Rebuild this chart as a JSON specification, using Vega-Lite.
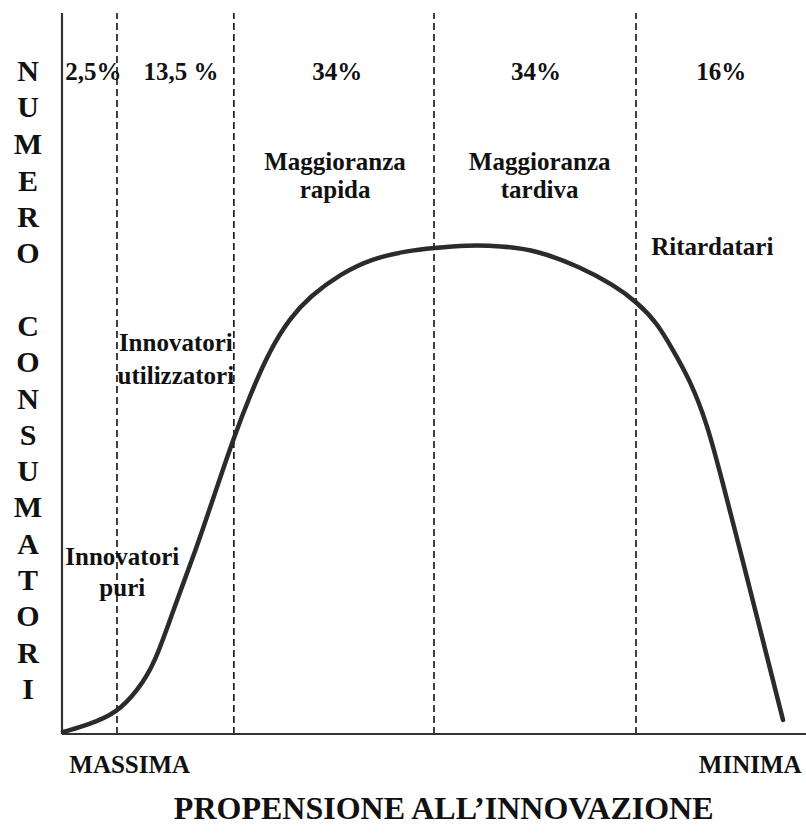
{
  "$schema": "https://vega.github.io/schema/vega-lite/v6.json",
  "width": 744,
  "height": 721,
  "autosize": {"type": "none"},
  "padding": {"left": 62, "top": 13, "right": 0, "bottom": 102},
  "background": "white",
  "config": {"view": {"stroke": null}, "text": {"font": "Liberation Serif", "fontWeight": "bold", "color": "#111"}},
  "datasets": {
    "curve": [
      {"x": 0.13, "y": 0.28}, {"x": 3.49, "y": 1.25}, {"x": 7.39, "y": 2.91}, {"x": 10.2, "y": 6.1},
      {"x": 12.5, "y": 9.8}, {"x": 15.19, "y": 17.9}, {"x": 17.88, "y": 25.2}, {"x": 20.56, "y": 33.4},
      {"x": 22.98, "y": 40.8}, {"x": 25.27, "y": 47.0}, {"x": 27.96, "y": 53.3}, {"x": 30.65, "y": 57.7},
      {"x": 33.33, "y": 60.7}, {"x": 37.37, "y": 63.8}, {"x": 41.8, "y": 66.0}, {"x": 46.4, "y": 67.0},
      {"x": 49.9, "y": 67.4}, {"x": 54.4, "y": 67.8}, {"x": 58.9, "y": 67.7}, {"x": 63.8, "y": 67.1},
      {"x": 69.6, "y": 64.8}, {"x": 74.1, "y": 62.3}, {"x": 77.3, "y": 59.9}, {"x": 80.0, "y": 57.0},
      {"x": 82.1, "y": 53.3}, {"x": 84.4, "y": 49.1}, {"x": 86.69, "y": 43.13}, {"x": 88.71, "y": 35.23},
      {"x": 91.13, "y": 25.52}, {"x": 93.41, "y": 16.23}, {"x": 96.91, "y": 1.94}
    ],
    "dividers": [{"x": 7.39}, {"x": 23.1}, {"x": 50.0}, {"x": 77.15}],
    "labels": [
      {"x": 4.23, "y": 91.8, "t": "2,5%"},
      {"x": 16.0, "y": 91.8, "t": "13,5 %"},
      {"x": 37.0, "y": 91.8, "t": "34%"},
      {"x": 63.7, "y": 91.8, "t": "34%"},
      {"x": 88.6, "y": 91.8, "t": "16%"},
      {"x": 36.7, "y": 79.3, "t": "Maggioranza"},
      {"x": 36.7, "y": 75.5, "t": "rapida"},
      {"x": 64.2, "y": 79.3, "t": "Maggioranza"},
      {"x": 64.2, "y": 75.5, "t": "tardiva"},
      {"x": 87.4, "y": 67.5, "t": "Ritardatari"},
      {"x": 15.3, "y": 54.2, "t": "Innovatori"},
      {"x": 15.3, "y": 49.7, "t": "utilizzatori"},
      {"x": 8.1, "y": 24.5, "t": "Innovatori"},
      {"x": 8.1, "y": 20.2, "t": "puri"},
      {"x": 9.1, "y": -4.3, "t": "MASSIMA"},
      {"x": 92.5, "y": -4.3, "t": "MINIMA"}
    ],
    "letters": [
      {"y": 91.8, "t": "N"}, {"y": 86.8, "t": "U"}, {"y": 81.7, "t": "M"}, {"y": 76.6, "t": "E"},
      {"y": 71.6, "t": "R"}, {"y": 66.6, "t": "O"}, {"y": 56.5, "t": "C"}, {"y": 51.5, "t": "O"},
      {"y": 46.3, "t": "N"}, {"y": 41.3, "t": "S"}, {"y": 36.3, "t": "U"}, {"y": 31.3, "t": "M"},
      {"y": 26.2, "t": "A"}, {"y": 21.2, "t": "T"}, {"y": 16.2, "t": "O"}, {"y": 11.1, "t": "R"},
      {"y": 6.1, "t": "I"}
    ],
    "title": [{"x": 51.3, "y": -10.4, "t": "PROPENSIONE ALL’INNOVAZIONE"}],
    "axes": [{"x": 0, "x2": 0, "y": 0, "y2": 100}, {"x": 0, "x2": 100, "y": 0, "y2": 0}]
  },
  "layer": [
    {
      "data": {"name": "dividers"},
      "mark": {"type": "rule", "color": "#111", "strokeWidth": 1.6, "strokeDash": [7, 4]},
      "encoding": {
        "x": {"field": "x", "type": "quantitative", "scale": {"domain": [0, 100], "nice": false}, "axis": null},
        "y": {"datum": 0, "type": "quantitative", "scale": {"domain": [0, 100], "nice": false}, "axis": null},
        "y2": {"datum": 100}
      }
    },
    {
      "data": {"name": "axes"},
      "mark": {"type": "rule", "color": "#333", "strokeWidth": 2.2},
      "encoding": {
        "x": {"field": "x", "type": "quantitative"},
        "x2": {"field": "x2"},
        "y": {"field": "y", "type": "quantitative"},
        "y2": {"field": "y2"}
      }
    },
    {
      "data": {"name": "curve"},
      "mark": {"type": "line", "color": "#2b2b2b", "strokeWidth": 4.5, "interpolate": "basis", "strokeCap": "round"},
      "encoding": {
        "x": {"field": "x", "type": "quantitative"},
        "y": {"field": "y", "type": "quantitative"}
      }
    },
    {
      "data": {"name": "labels"},
      "mark": {"type": "text", "fontSize": 25, "baseline": "middle", "align": "center"},
      "encoding": {
        "x": {"field": "x", "type": "quantitative"},
        "y": {"field": "y", "type": "quantitative"},
        "text": {"field": "t"}
      }
    },
    {
      "data": {"name": "letters"},
      "mark": {"type": "text", "fontSize": 30, "baseline": "middle", "align": "center"},
      "encoding": {
        "x": {"datum": -4.57, "type": "quantitative"},
        "y": {"field": "y", "type": "quantitative"},
        "text": {"field": "t"}
      }
    },
    {
      "data": {"name": "title"},
      "mark": {"type": "text", "fontSize": 32, "baseline": "middle", "align": "center"},
      "encoding": {
        "x": {"field": "x", "type": "quantitative"},
        "y": {"field": "y", "type": "quantitative"},
        "text": {"field": "t"}
      }
    }
  ]
}
